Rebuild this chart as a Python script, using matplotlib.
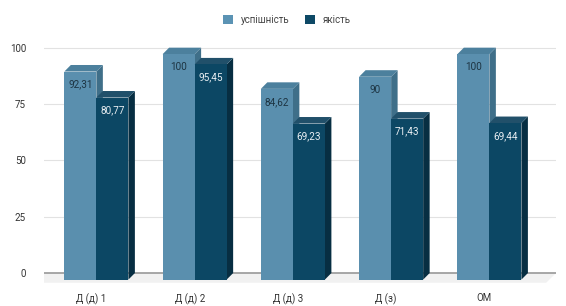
import matplotlib.pyplot as plt
from matplotlib.patches import Polygon, Patch

plt.rcParams['font.family'] = ['Roboto', 'DejaVu Sans']

# дані
categories = ['Д (д) 1', 'Д (д) 2', 'Д (д) 3', 'Д (з)', 'ОМ']
uspishnist = [92.31, 100, 84.62, 90, 100]
yakist = [80.77, 95.45, 69.23, 71.43, 69.44]
series_names = ['успішність', 'якість']
yticks = [0, 25, 50, 75, 100]

# кольори: фронт, бік, верх
light = ('#5a8fae', '#3f6f89', '#4c809d')
dark = ('#0c4764', '#072e42', '#21506a')

fig = plt.figure(figsize=(5.66, 3.06), dpi=100)
ax = fig.add_axes([44 / 566, 1 - 285 / 306, 512 / 566, 245 / 306])
ax.set_xlim(-0.483, 4.728)
ax.set_ylim(-5.3, 103.4)

w = 0.326      # ширина стовпця
dx = 0.066     # глибина по x
dy = 2.9       # глибина по y
shift = 0.05   # зсув груп відносно підпису


def bar3d(x0, v, cols, txtcol):
    x1 = x0 + w
    front = Polygon([(x0, -dy), (x1, -dy), (x1, v - dy), (x0, v - dy)],
                    closed=True, fc=cols[0], ec='none', zorder=3)
    side = Polygon([(x1, -dy), (x1 + dx, 0), (x1 + dx, v), (x1, v - dy)],
                   closed=True, fc=cols[1], ec='none', zorder=3)
    top = Polygon([(x0, v - dy), (x1, v - dy), (x1 + dx, v), (x0 + dx, v)],
                  closed=True, fc=cols[2], ec='none', zorder=3)
    for p in (side, top, front):
        ax.add_patch(p)
    lab = f'{v:g}'.replace('.', ',')
    ax.text(x0 + w / 2, v - dy - 5.8, lab, ha='center', va='center',
            fontsize=7.2, color=txtcol, zorder=4)


# підлога
xl, xr = ax.get_xlim()
ax.add_patch(Polygon([(xl, 0), (xr, 0), (xr - 0.1, -4.3), (xl - 0.1, -4.3)],
                     closed=True, fc='#f1f1f1', ec='none', zorder=1))

for yv in yticks:
    ax.axhline(yv, color='#a0a0a0' if yv == 0 else '#e2e2e2',
               lw=1.3 if yv == 0 else 0.8, zorder=2)

for i in range(len(categories)):
    b = i + shift
    bar3d(b - w, uspishnist[i], light, '#1d3442')
    bar3d(b, yakist[i], dark, '#e8eef2')

ax.set_xticks(range(len(categories)))
ax.set_xticklabels(categories)
ax.set_yticks(yticks)
ax.set_yticklabels([str(t) for t in yticks])
ax.tick_params(length=0, labelsize=7, colors='#333333')
ax.tick_params(axis='y', pad=13)
ax.tick_params(axis='x', pad=6)
for s in ax.spines.values():
    s.set_visible(False)

handles = [Patch(fc='#5b93b4', ec='none'), Patch(fc='#0e4966', ec='none')]
fig.legend(handles, series_names, loc='center', bbox_to_anchor=(287 / 566, 1 - 20 / 306),
           ncol=2, frameon=False, fontsize=7, handlelength=1.0, handleheight=1.0,
           handletextpad=0.8, columnspacing=1.6, labelcolor='#444444')

fig.savefig('out.png', dpi=100)
